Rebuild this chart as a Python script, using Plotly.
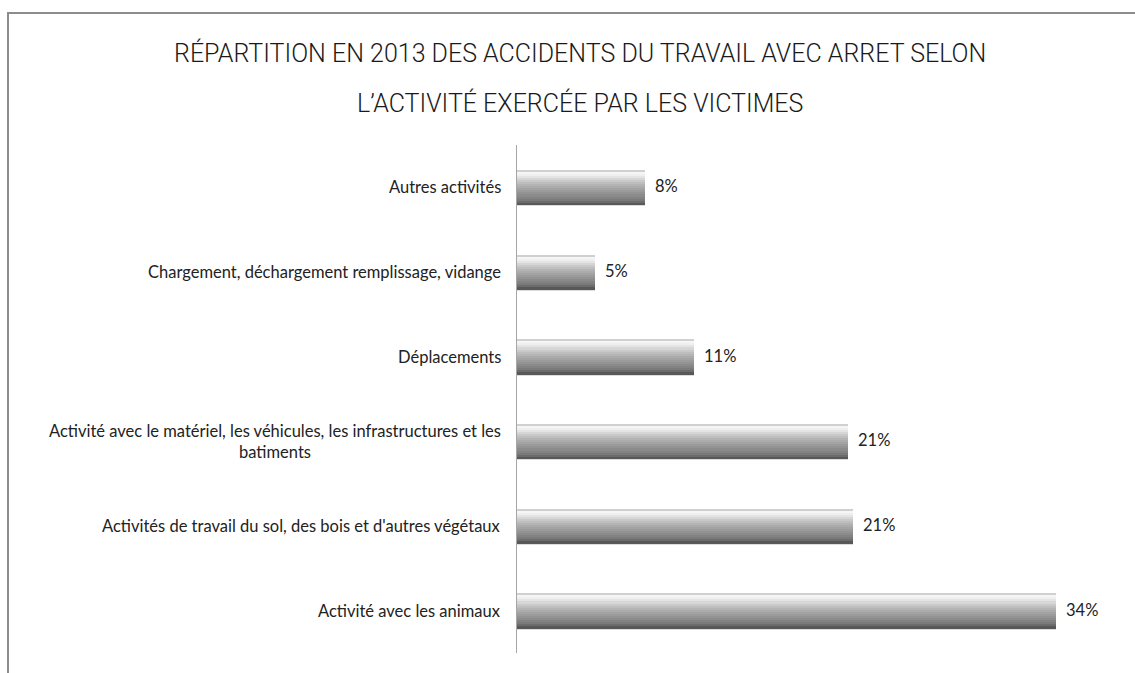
import plotly.graph_objects as go

# Data (top to bottom as displayed)
categories = [
    "Autres activités",
    "Chargement, déchargement remplissage, vidange",
    "Déplacements",
    "Activité avec le matériel, les véhicules, les infrastructures et les<br>batiments",
    "Activités de travail du sol, des bois et d'autres végétaux",
    "Activité avec les animaux",
]
values = [8.1, 4.9, 11.2, 20.9, 21.2, 34.0]
value_labels = ["8%", "5%", "11%", "21%", "21%", "34%"]

title_lines = [
    "RÉPARTITION EN 2013 DES ACCIDENTS DU TRAVAIL AVEC ARRET SELON",
    "L\u2019ACTIVITÉ EXERCÉE PAR LES VICTIMES",
]

# plotly puts first category at bottom -> reverse
cats = categories[::-1]
vals = values[::-1]
labs = value_labels[::-1]

W, H = 1135, 673
L, R, T, B = 517, 0, 145, 20
pw, ph = W - L - R, H - T - B

def px_to_paper_x(px):
    return (px - L) / pw

def px_to_paper_y(py):
    return (H - B - py) / ph

fig = go.Figure()

bar_w = 0.41
# gradient stripes from top to bottom
stripe_colors = ["#d0d0d0", "#f5f5f5", "#efefef", "#e4e4e4", "#d6d6d6", "#c9c9c9",
                 "#bebebe", "#b4b4b4", "#ababab", "#a3a3a3", "#9b9b9b", "#939393",
                 "#8b8b8b", "#838383", "#7a7a7a", "#6c6c6c", "#585858"]
n = len(stripe_colors)
sw = bar_w / n

# shadow
fig.add_trace(go.Bar(
    y=cats, x=vals, orientation="h",
    width=[bar_w] * len(cats), offset=[-bar_w / 2 - 0.02] * len(cats),
    marker=dict(color="#dcdcdc", line=dict(width=0)),
    hoverinfo="skip", showlegend=False,
))
for i, c in enumerate(stripe_colors):
    top = bar_w / 2 - i * sw
    fig.add_trace(go.Bar(
        y=cats, x=vals, orientation="h",
        width=[sw * 1.3] * len(cats), offset=[top - sw * 1.3] * len(cats),
        marker=dict(color=c, line=dict(width=0)),
        hoverinfo="skip", showlegend=False,
    ))

label_font = dict(family="Lato, Open Sans, sans-serif", size=16.5, color="#222222")
annotations = []
for c, v, t in zip(cats, vals, labs):
    annotations.append(dict(
        x=v, y=c, xref="x", yref="y", text=t, showarrow=False,
        xanchor="left", xshift=8, yshift=1, font=label_font,
    ))
    annotations.append(dict(
        x=0, y=c, xref="paper", yref="y", text=c, showarrow=False,
        xanchor="right", xshift=-14, align="center", font=label_font,
    ))

title_font = dict(family="Roboto, sans-serif", size=25, color="#1a1a1a", weight=300)
annotations.append(dict(
    x=px_to_paper_x(580), y=px_to_paper_y(53), xref="paper", yref="paper",
    text=title_lines[0], showarrow=False, xanchor="center", yanchor="middle",
    font=title_font,
))
annotations.append(dict(
    x=px_to_paper_x(580), y=px_to_paper_y(103), xref="paper", yref="paper",
    text=title_lines[1], showarrow=False, xanchor="center", yanchor="middle",
    font=title_font,
))

shapes = [dict(
    type="rect", xref="paper", yref="paper",
    x0=px_to_paper_x(8), x1=px_to_paper_x(W + 20),
    y0=px_to_paper_y(H + 20), y1=px_to_paper_y(13),
    line=dict(color="#8c8c8c", width=2), fillcolor="rgba(0,0,0,0)", layer="below",
)]

fig.update_layout(
    width=W, height=H,
    margin=dict(l=L, r=R, t=T, b=B),
    barmode="overlay", bargap=0,
    plot_bgcolor="white", paper_bgcolor="white",
    showlegend=False,
    annotations=annotations,
    shapes=shapes,
    xaxis=dict(range=[0, 39], showgrid=False, zeroline=False, showticklabels=False,
               showline=False, ticks=""),
    yaxis=dict(categoryorder="array", categoryarray=cats, range=[-0.5, len(cats) - 0.5],
               showgrid=False, zeroline=False, showticklabels=False, ticks="",
               showline=True, linecolor="#a6a6a6", linewidth=1),
)

fig.write_html("out.html")
